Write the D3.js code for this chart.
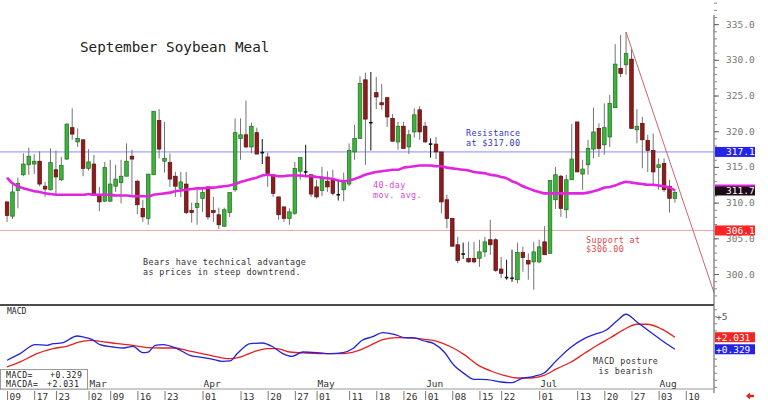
<!DOCTYPE html>
<html lang="en">
<head>
<meta charset="UTF-8">
<title>September Soybean Meal</title>
<script src="https://cdn.jsdelivr.net/npm/d3@7"></script>
<style>
  body, html { margin: 0; background: #fff; }
  svg { display: block; }
  text { font-family: 'DejaVu Sans Mono', monospace; }
</style>
</head>
<body>
<svg id="chart" width="768" height="410"></svg>
<script>
// daily candles, one per trading day (index 0 = first bar on the chart)
const opens = [310.1,308.1,311.7,313.9,315.3,315.4,315.8,312.3,311.8,314.6, 313.2,316.1,320.5,318.5,318.8,314.8,315.4,311.0,310.2,310.2,
  312.3,312.8,313.7,316.5,313.0,309.2,307.8,313.9,321.5,315.8, 315.6,313.7,312.0,312.6,308.9,309.3,310.6,312.2,308.9,308.3,
  306.7,308.6,311.8,319.0,319.5,317.8,319.8,317.0,316.4,313.9, 310.8,309.4,307.8,308.5,314.4,314.3,313.9,312.2,311.7,313.0,
  313.1,311.1,311.8,312.6,317.1,319.0,327.2,321.2,325.4,324.0, 324.7,321.8,318.5,320.7,317.8,319.9,323.0,320.7,318.2,318.2,
  317.1,310.4,307.8,304.1,302.8,302.2,302.2,302.2,303.1,304.8, 304.8,300.7,299.5,299.4,299.2,303.0,301.9,301.7,301.7,304.5,
  302.9,310.4,313.7,309.0,313.2,321.3,314.0,315.3,317.5,320.4, 318.1,319.2,323.3,328.8,329.3,330.1,320.2,321.1,318.7,317.3,
  314.9,315.5,312.3,310.6];
const highs = [310.1,312.5,313.5,316.9,317.7,316.8,317.2,312.9,317.6,317.3, 316.4,321.1,323.2,320.4,318.8,317.5,316.7,312.2,315.7,316.0,
  315.3,316.0,318.3,317.4,313.2,310.4,314.0,322.8,323.1,321.3, 316.9,314.3,314.3,314.3,310.0,311.8,312.2,312.2,310.8,309.3,
  309.3,311.4,321.8,321.8,324.3,321.2,320.5,318.9,317.0,313.9, 310.8,309.4,309.2,315.7,316.3,318.1,313.9,313.2,315.0,314.4,
  314.6,313.0,314.2,318.3,320.9,327.7,328.2,328.3,327.6,326.6, 324.7,322.4,321.3,321.3,320.2,323.2,323.5,321.3,319.0,319.2,
  317.1,311.1,307.8,305.2,304.4,304.5,304.5,304.8,305.2,307.6, 305.0,302.4,302.0,303.4,304.4,303.8,302.9,304.5,304.8,306.7,
  313.1,315.0,313.9,313.9,321.0,321.3,316.0,318.8,323.3,321.1, 323.9,325.1,332.2,333.5,333.9,331.5,323.1,322.0,319.5,319.7,
  316.2,316.2,313.2,311.8];
const lows = [307.3,307.7,309.2,313.7,313.9,314.0,312.3,310.8,311.7,311.2, 313.0,316.0,318.8,317.8,313.7,314.5,311.0,308.8,310.1,310.1,
  311.5,309.9,313.7,311.1,308.4,307.3,306.9,313.9,316.2,314.2, 312.2,310.8,310.8,308.4,307.2,306.9,308.7,307.6,307.3,306.3,
  306.6,308.0,311.5,316.0,317.6,316.9,316.8,315.4,312.2,310.8, 307.6,307.3,306.9,308.3,313.2,313.6,310.8,310.6,310.9,311.5,
  311.0,310.3,310.2,312.3,316.0,319.0,315.3,317.3,323.1,323.0, 320.6,318.6,317.4,317.6,316.8,319.1,318.8,318.4,316.3,316.1,
  308.5,306.4,303.8,301.5,302.1,301.6,301.5,301.0,302.4,302.7, 300.3,299.4,299.2,298.9,298.7,300.3,299.2,297.8,301.5,302.7,
  302.9,309.1,308.0,307.8,313.2,314.3,311.8,313.9,316.2,316.4, 316.7,317.8,323.3,327.6,327.9,320.4,318.3,314.8,314.3,312.3,
  311.8,311.5,308.6,310.0];
const closes = [308.2,311.5,312.7,315.4,316.5,315.8,312.6,311.9,315.6,313.6, 315.2,321.0,319.6,319.0,314.8,315.7,311.0,310.1,314.9,312.6,
  313.3,313.7,315.8,316.1,309.7,308.0,314.0,322.8,317.5,316.2, 313.3,312.3,312.9,308.6,308.6,309.9,311.4,308.0,308.6,306.9,
  309.0,311.4,319.8,319.5,317.8,320.7,316.8,317.0,314.1,311.3, 308.3,307.8,308.7,314.8,316.3,314.3,311.2,310.8,313.5,312.2,
  311.3,311.1,312.9,317.3,319.0,326.7,321.7,321.2,324.8,323.7, 322.0,318.6,320.7,317.6,319.5,322.3,319.9,318.5,318.2,317.1,
  310.1,307.8,303.9,301.9,302.8,301.7,301.7,303.1,304.5,304.1, 300.5,300.1,299.5,299.4,303.0,302.3,301.4,303.1,303.8,302.7,
  313.1,313.9,309.2,313.2,316.1,314.3,314.7,317.6,319.9,317.6, 320.5,323.9,329.4,328.1,330.9,320.4,320.7,318.8,317.3,314.3,
  315.3,311.8,310.6,311.4];

// 40-day moving average, one value per bar
const ma40 = [313.5,312.7,312.3,312.0,311.8,311.6,311.5,311.3,311.2,311.1, 311.1,311.1,311.1,311.1,311.1,311.2,311.1,311.1,311.1,311.1,
  311.0,311.0,311.0,310.9,310.9,310.9,310.9,311.1,311.2,311.3, 311.4,311.6,311.7,311.8,311.9,312.0,312.0,312.1,312.1,312.2,
  312.3,312.4,312.6,312.9,313.1,313.3,313.5,313.8,313.9,313.8, 313.7,313.7,313.8,313.8,313.8,313.7,313.7,313.6,313.5,313.4,
  313.3,313.1,313.0,313.1,313.3,313.6,313.9,314.1,314.3,314.4, 314.5,314.6,314.6,314.9,315.0,315.1,315.2,315.2,315.2,315.1,
  315.1,314.9,314.8,314.7,314.6,314.5,314.3,314.2,314.1,313.9, 313.8,313.6,313.4,313.0,312.7,312.3,312.0,311.7,311.5,311.3,
  311.3,311.3,311.3,311.3,311.3,311.3,311.3,311.4,311.6,311.8, 312.1,312.2,312.4,312.7,312.9,312.8,312.7,312.6,312.5,312.5,
  312.4,312.3,312.1,311.7];

// MACD (blue) and its average (red), read at these bar positions
const macdAt = [0,2.4,5.2,7.4,8.5,10.1,12.9,14,15.7,17.1,19.5,21.4,23.2,25,26,27.3,28.7,31.3,33.7,35.5,
  37.9,39.6,41.1,42.4,44.8,47,49,50.8,52.5,54.5,57.1,59.5,61.9,63.7,65.4,67.2,69.2,71.3,73.1,75,
  76.8,78.6,80.5,82.3,84.2,86,88.4,91,93,94.7,97.1,98.9,101.1,103.9,106.3,108.1,110.3,112.3,114,116,
  118.6,121,123];
const macdVals = [-1.23,-0.29,0.99,0.89,1.13,1.22,2.21,2.07,1.70,0.99,0.65,0.51,0.75,-0.14,-0.06,0.89,0.99,0.43,-0.52,-0.77,
  -1.09,-1.38,-1.33,-0.28,1.13,1.22,0.65,-0.28,-0.67,-0.06,-0.14,-0.28,-0.14,0.43,1.6,2.07,2.7,2.45,1.99,1.93,
  1.50,1.13,-0.06,-1.94,-3.12,-3.93,-3.97,-4.31,-4.40,-3.83,-3.50,-3.04,-1.33,0.65,1.84,2.41,3.02,4.34,5.29,4.2,
  2.7,1.36,0.33];
const signalAt = [0,2.4,5.5,8.5,11,13.4,15.3,17.1,20.3,23.2,25.8,28.2,30.6,33.1,36.8,41.1,42.9,45.3,47.9,49.7,
  52.1,55.2,58.9,61.9,64.5,66.9,69.2,71.8,74.4,76.8,79.2,81.8,84.2,86.6,89.1,91.5,93.9,96.5,98.9,101.3,
  103.9,106.3,108.7,111.2,113.6,116,117.9,120.4,123];
const signalVals = [-2.18,-1.47,-0.28,0.43,0.75,1.36,1.60,1.46,1.13,0.89,0.57,0.51,0.51,0.18,-0.43,-0.99,-0.77,-0.06,0.43,0.43,
  -0.06,-0.2,-0.28,-0.28,0.09,0.89,1.70,1.99,1.93,1.74,1.46,0.65,-0.43,-1.84,-2.75,-3.36,-3.74,-3.74,-3.36,-2.41,
  -1.47,-0.28,0.89,1.99,3.12,3.87,3.87,3.26,2.03];

// date axis
const dayTickAt = [0,5,9,15,19,24,29,36,43,48,53,57,63,68,73,77,82,87,91,98,105,110,115,120,125];
const dayTickLabels = ["09","17","23","02","09","16","23","01","13","20","27","01","11","18","26","01","08","15","22","01","13","20","27","03","10"];
const monthAt = [15,36,57,77,98,120];
const monthLabels = ["Mar","Apr","May","Jun","Jul","Aug"];

const priceTicks = [300,305,310,315,320,325,330,335];
const resistance = 317.1, support = 306.1, lastMA = 311.7;
const lastMacd = 0.329, lastSignal = 2.031;
const trendAt = [114, 130.2], trendVals = [333.9, 297.4];

const svg = d3.select("#chart");
const W = 714, mainBottom = 305, macdBottom = 389;

const x = d3.scaleLinear().domain([-1.3, 130.2]).range([0, W]);
const y = d3.scaleLinear().domain([295.66, 338.38]).range([mainBottom, 0]);
const m = d3.scaleLinear().domain([-5.3, 6.6]).range([macdBottom, mainBottom]);

// level lines
svg.append("line").attr("x1", 0).attr("x2", W).attr("y1", y(resistance)).attr("y2", y(resistance))
  .attr("stroke", "#8a8aff").attr("stroke-width", 1);
svg.append("line").attr("x1", 0).attr("x2", W).attr("y1", y(support)).attr("y2", y(support))
  .attr("stroke", "#f2a8a8").attr("stroke-width", 1);

// candles
const bars = d3.range(opens.length);
const bw = 3.6;
const g = svg.append("g");
g.selectAll("line.wick").data(bars).join("line")
  .attr("x1", i => x(i)).attr("x2", i => x(i))
  .attr("y1", i => y(highs[i])).attr("y2", i => y(lows[i]))
  .attr("stroke", i => opens[i] === closes[i] ? "#111" : "#737373").attr("stroke-width", 1);
g.selectAll("rect.body").data(bars.filter(i => opens[i] !== closes[i])).join("rect")
  .attr("x", i => x(i) - bw / 2)
  .attr("y", i => y(Math.max(opens[i], closes[i])))
  .attr("width", bw)
  .attr("height", i => Math.max(1.5, Math.abs(y(opens[i]) - y(closes[i]))))
  .attr("fill", i => closes[i] > opens[i] ? "#3cb43c" : "#8e1c1c")
  .attr("stroke", i => closes[i] > opens[i] ? "#1d6e1d" : "#5a0c0c")
  .attr("stroke-width", 0.7);
g.selectAll("line.doji").data(bars.filter(i => opens[i] === closes[i])).join("line")
  .attr("x1", i => x(i) - bw / 2).attr("x2", i => x(i) + bw / 2)
  .attr("y1", i => y(opens[i])).attr("y2", i => y(opens[i]))
  .attr("stroke", "#111").attr("stroke-width", 1.6);

// 40-day moving average
svg.append("path").datum(ma40)
  .attr("d", d3.line().x((d, i) => x(i)).y(d => y(d)).curve(d3.curveMonotoneX))
  .attr("fill", "none").attr("stroke", "#e024e0").attr("stroke-width", 2.6);

// downtrend line
svg.append("line")
  .attr("x1", x(trendAt[0])).attr("y1", y(trendVals[0]))
  .attr("x2", x(trendAt[1])).attr("y2", y(trendVals[1]))
  .attr("stroke", "#c26a6a").attr("stroke-width", 1);

// panel divider
svg.append("line").attr("x1", 0).attr("x2", W).attr("y1", mainBottom).attr("y2", mainBottom)
  .attr("stroke", "#111").attr("stroke-width", 1.5);

// MACD lines
const lineAt = (at) => d3.line().x((d, i) => x(at[i])).y(d => m(d)).curve(d3.curveMonotoneX);
svg.append("path").datum(signalVals).attr("d", lineAt(signalAt))
  .attr("fill", "none").attr("stroke", "#e62020").attr("stroke-width", 1.3);
svg.append("path").datum(macdVals).attr("d", lineAt(macdAt))
  .attr("fill", "none").attr("stroke", "#2323d8").attr("stroke-width", 1.3);

// right price axis
svg.append("line").attr("x1", W).attr("x2", W).attr("y1", 15).attr("y2", 393)
  .attr("stroke", "#555").attr("stroke-width", 1);
const minor = svg.append("g").attr("transform", `translate(${W},0)`)
  .call(d3.axisRight(y).tickValues(d3.range(297, 339, 1)).tickSize(3).tickFormat(""));
minor.select(".domain").remove();
minor.selectAll("line").attr("stroke", "#888");
const pAxis = svg.append("g").attr("transform", `translate(${W},0)`)
  .call(d3.axisRight(y).tickValues(priceTicks).tickSize(5).tickPadding(7).tickFormat(d3.format(".1f")));
pAxis.select(".domain").remove();
pAxis.selectAll("line").attr("stroke", "#666");
pAxis.selectAll("text").attr("fill", "#777").style("font-size", "9.5px")
  .style("font-family", "'DejaVu Sans Mono', monospace");

const mAxis = svg.append("g").attr("transform", `translate(${W},0)`)
  .call(d3.axisRight(m).tickValues(d3.range(-5, 7, 1)).tickSize(3).tickFormat(""));
mAxis.select(".domain").remove();
mAxis.selectAll("line").attr("stroke", "#888");
svg.append("text").attr("x", W + 2).attr("y", m(5) + 3.5).text("+5")
  .attr("fill", "#555").style("font-size", "9.5px");

// value tags on the axis
function tag(yy, fill, label, textX) {
  svg.append("rect").attr("x", W + 1).attr("y", yy - 5).attr("width", 40).attr("height", 10).attr("fill", fill);
  svg.append("text").attr("x", textX).attr("y", yy + 3.5).text(label)
    .attr("fill", "#fff").style("font-size", "9.5px");
}
tag(y(resistance), "#2424e6", d3.format(".1f")(resistance), W + 12);
tag(y(lastMA), "#1c0a14", d3.format(".1f")(lastMA), W + 12);
svg.append("rect").attr("x", W + 1).attr("y", y(lastMA) - 6).attr("width", 40).attr("height", 2).attr("fill", "#e024e0");
tag(y(support), "#ff2424", d3.format(".1f")(support), W + 12);
tag(m(lastSignal), "#f22424", d3.format("+.3f")(lastSignal), W + 2);
tag(m(lastMacd), "#2424e6", d3.format("+.3f")(lastMacd), W + 2);

// date axis
svg.append("line").attr("x1", 0).attr("x2", W).attr("y1", macdBottom).attr("y2", macdBottom)
  .attr("stroke", "#999").attr("stroke-width", 1);
const dAxis = svg.append("g").attr("transform", `translate(0,${macdBottom + 2})`)
  .call(d3.axisBottom(x).tickValues(dayTickAt).tickSize(9).tickFormat((d, i) => dayTickLabels[i]));
dAxis.select(".domain").remove();
dAxis.selectAll("line").attr("stroke", "#777");
dAxis.selectAll("text").attr("text-anchor", "start").attr("x", 2).attr("y", 0).attr("dy", "8.5px")
  .attr("fill", "#333").style("font-size", "9.5px").style("font-family", "'DejaVu Sans Mono', monospace");
svg.selectAll("text.month").data(monthLabels).join("text")
  .attr("x", (d, i) => x(monthAt[i]) + 1).attr("y", macdBottom - 2).text(d => d)
  .attr("fill", "#333").style("font-size", "9.5px");

// small red arrow at bottom right
svg.append("path").attr("d", "M746,396 L750,392.5 L750,394.8 L754,394.8 L754,397.2 L750,397.2 L750,399.5 Z")
  .attr("fill", "#e82020");

// MACD readout box
svg.append("rect").attr("x", 0.5).attr("y", 369.5).attr("width", 87).attr("height", 19.5)
  .attr("fill", "#fff").attr("stroke", "#999");
const small = { size: "8.2px", ls: "0.45px" };
[["MACD=", 6, 377.8], [d3.format("+.3f")(lastMacd), 50, 377.8],
 ["MACDA=", 6, 387.4], [d3.format("+.3f")(lastSignal), 47, 387.4]].forEach(([t, xx, yy]) =>
  svg.append("text").attr("x", xx).attr("y", yy).text(t).attr("fill", "#222")
    .style("font-size", small.size).style("letter-spacing", small.ls));
svg.append("text").attr("x", 7).attr("y", 314).text("MACD").attr("fill", "#222").style("font-size", "8px");

// title and notes
svg.append("text").attr("x", 80).attr("y", 52).text("September Soybean Meal")
  .attr("fill", "#222").style("font-size", "14.3px");
function note(lines, xx, yy, color, gap) {
  lines.forEach((t, k) => svg.append("text").attr("x", xx).attr("y", yy + k * gap)
    .text(t).attr("fill", color).style("font-size", "8.4px").style("letter-spacing", "0.4px")
    .attr("xml:space", "preserve"));
}
note(["Resistance", "at $317.00"], 466, 136, "#3434c4", 10);
note(["40-day", "mov. avg."], 373, 188, "#d64ad6", 9.9);
note(["Support at", "$306.00"], 586, 242.5, "#e04848", 9.9);
note(["Bears have technical advantage", "as prices in steep downtrend."], 143, 265, "#333", 9.9);
note(["MACD posture", " is bearish"], 593, 364, "#333", 9.9);
</script>
</body>
</html>
